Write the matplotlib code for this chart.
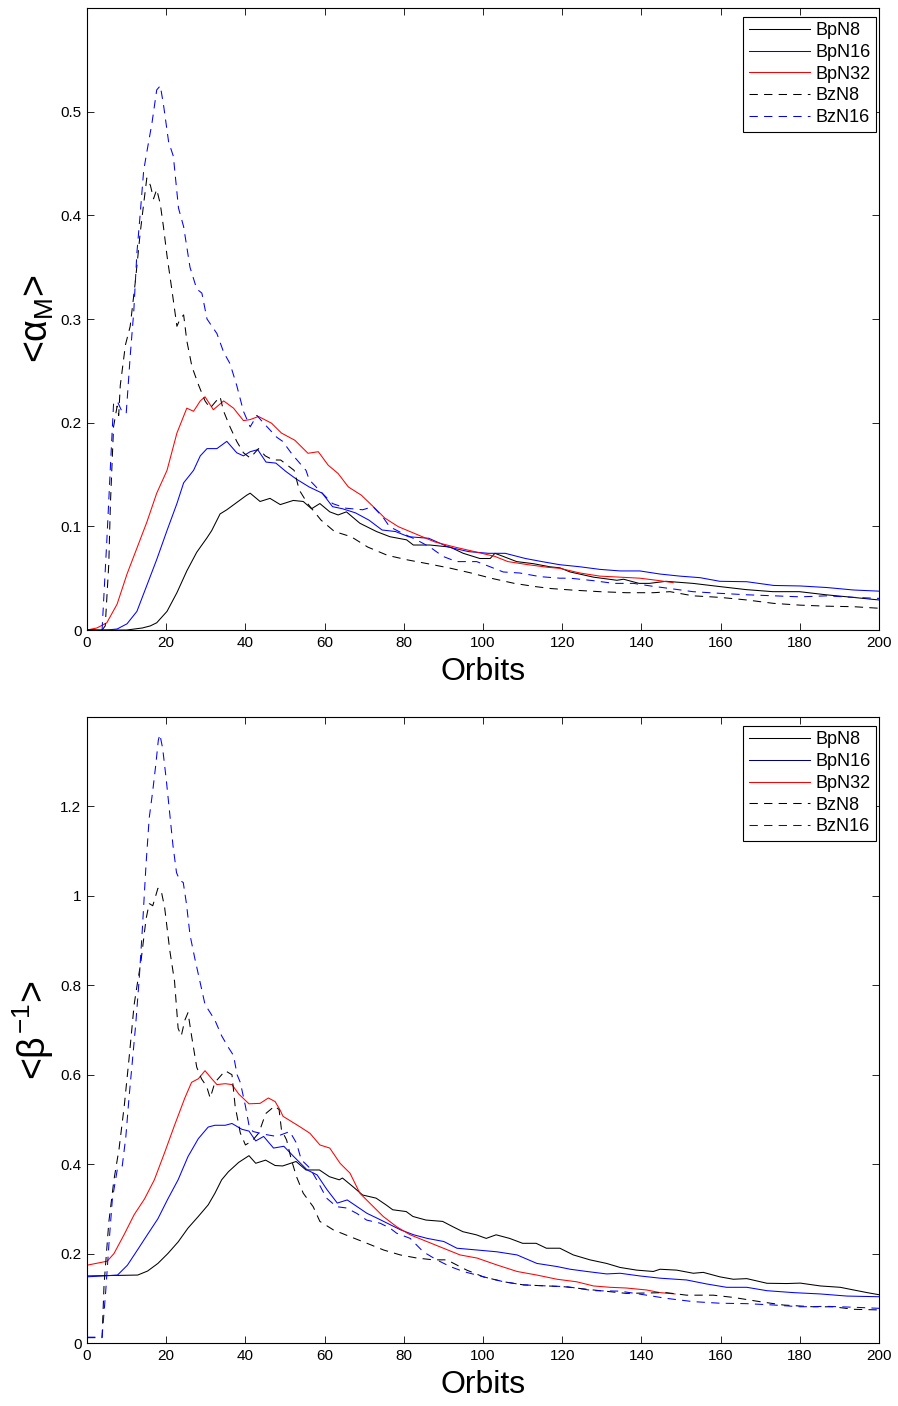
import numpy as np
import matplotlib
import matplotlib.pyplot as plt
from matplotlib.lines import Line2D

matplotlib.use('Agg')

plt.rcParams['font.family'] = ['Liberation Sans', 'DejaVu Sans']
plt.rcParams['mathtext.fontset'] = 'custom'
plt.rcParams['mathtext.rm'] = 'Liberation Sans'
plt.rcParams['mathtext.it'] = 'Liberation Sans'
plt.rcParams['mathtext.bf'] = 'Liberation Sans'

# (orbit, <alpha_M>) samples for each run
alpha_bpn8 = [(0, 0), (5, 0), (10, 0), (12, 0.001), (14, 0.002), (16, 0.004), (17.6, 0.007), (20.2, 0.018),
              (22.7, 0.036), (25.2, 0.057), (27.7, 0.075), (30.3, 0.089), (31.5, 0.096), (33.6, 0.112),
              (35.3, 0.116), (37.8, 0.123), (40.3, 0.130), (41.2, 0.132), (43.7, 0.124), (46.2, 0.127),
              (48.8, 0.121), (52.1, 0.125), (54.6, 0.124), (56.7, 0.117), (58.8, 0.122), (61.3, 0.114),
              (63.4, 0.111), (65.5, 0.114), (68.9, 0.103), (73.1, 0.095), (76.5, 0.090), (80.7, 0.087),
              (82.4, 0.082), (86.6, 0.082), (91.7, 0.080), (95.0, 0.074), (99.2, 0.069), (101.8, 0.069),
              (103.0, 0.074), (105.1, 0.071), (108.5, 0.066), (112.7, 0.064), (116.9, 0.061), (119.4, 0.060),
              (122.0, 0.056), (127.9, 0.051), (133.8, 0.048), (135.5, 0.049), (139.4, 0.045), (142.0, 0.045),
              (146.2, 0.047), (153.0, 0.045), (159.6, 0.042), (166.4, 0.039), (173.2, 0.037), (179.9, 0.037),
              (186.6, 0.034), (193.4, 0.0315), (200, 0.029)]
alpha_bpn16 = [(0, 0), (5, 0), (7.6, 0.001), (10.1, 0.006), (12.6, 0.018), (15.1, 0.043), (17.6, 0.068),
               (20.2, 0.096), (22.7, 0.122), (24.4, 0.142), (26.9, 0.154), (28.6, 0.168), (30.3, 0.175),
               (32.8, 0.175), (35.3, 0.182), (37.8, 0.171), (39.5, 0.168), (41.2, 0.172), (43.1, 0.174),
               (45.2, 0.162), (47.7, 0.161), (50.2, 0.153), (52.7, 0.146), (56.1, 0.138), (59.4, 0.132),
               (62.0, 0.119), (64.5, 0.117), (67.8, 0.113), (71.2, 0.106), (74.5, 0.0965), (77.9, 0.095),
               (81.2, 0.090), (86.3, 0.0885), (91.3, 0.080), (96.4, 0.0756), (101.4, 0.074), (105.6, 0.074),
               (110.7, 0.069), (114.9, 0.066), (119.4, 0.063), (124.5, 0.061), (129.5, 0.0585), (134.6, 0.057),
               (139.6, 0.057), (144.7, 0.054), (149.7, 0.052), (154.8, 0.0505), (159.8, 0.047), (166.6, 0.0466),
               (173.4, 0.043), (180.1, 0.0425), (186.8, 0.041), (193.6, 0.0386), (200, 0.0375)]
alpha_bpn32 = [(0, 0), (2.5, 0.002), (5, 0.007), (7.6, 0.025), (10.1, 0.054), (12.6, 0.079), (15.1, 0.104),
               (17.6, 0.132), (20.2, 0.154), (22.7, 0.190), (25.2, 0.214), (26.9, 0.211), (28.6, 0.221),
               (29.8, 0.225), (31.9, 0.2125), (34.5, 0.221), (37.0, 0.214), (39.5, 0.202), (41.2, 0.203),
               (43.3, 0.206), (46.6, 0.1995), (49.1, 0.190), (52.5, 0.183), (55.8, 0.1705), (58.4, 0.172),
               (60.9, 0.159), (63.4, 0.151), (66.0, 0.138), (69.3, 0.130), (72.7, 0.1175), (75.2, 0.108),
               (78.6, 0.0997), (82.8, 0.093), (87.8, 0.085), (92.9, 0.080), (97.9, 0.0756), (103.0, 0.071),
               (106.3, 0.066), (111.4, 0.063), (116.4, 0.0605), (119.4, 0.0595), (124.5, 0.055), (129.5, 0.052),
               (134.6, 0.051), (139.6, 0.050), (143.8, 0.048), (148.0, 0.0457)]
alpha_bzn8 = [(0, 0), (3.8, 0), (4.6, 0.004), (5.5, 0.064), (5.9, 0.121), (6.7, 0.196), (7.6, 0.216),
              (8.0, 0.207), (8.4, 0.236), (9.7, 0.275), (10.9, 0.293), (12.2, 0.336), (13.4, 0.382),
              (14.3, 0.411), (15.1, 0.436), (16.0, 0.429), (16.8, 0.416), (17.6, 0.425), (18.5, 0.411),
              (19.3, 0.389), (20.2, 0.361), (21.4, 0.329), (22.7, 0.293), (23.5, 0.300), (24.4, 0.304),
              (25.2, 0.279), (26.5, 0.254), (28.2, 0.236), (29.8, 0.221), (31.1, 0.214), (32.4, 0.220),
              (33.6, 0.225), (34.5, 0.211), (36.1, 0.196), (37.8, 0.182), (39.5, 0.171), (41.2, 0.166),
              (43.3, 0.175), (45.0, 0.168), (47.0, 0.164), (48.9, 0.164), (52.3, 0.154), (53.6, 0.135),
              (55.7, 0.122), (59.1, 0.106), (62.5, 0.095), (66.7, 0.090), (70.9, 0.080), (75.9, 0.072),
              (81.0, 0.0676), (86.0, 0.064), (91.9, 0.0595), (97.0, 0.055), (102.0, 0.050), (107.9, 0.045),
              (113.0, 0.042), (117.2, 0.040), (122.3, 0.0386), (129.5, 0.037), (136.2, 0.036), (143.0, 0.036),
              (147.2, 0.037), (153.0, 0.033), (159.8, 0.0315), (166.6, 0.029), (173.4, 0.0257), (180.1, 0.024),
              (186.8, 0.023), (193.6, 0.0225), (200, 0.021)]
alpha_bzn16 = [(0, 0), (3.8, 0), (5.0, 0.086), (5.9, 0.157), (6.7, 0.218), (7.6, 0.221), (8.8, 0.211),
               (9.9, 0.209), (10.9, 0.264), (11.8, 0.307), (12.6, 0.364), (13.4, 0.400), (14.3, 0.443),
               (15.1, 0.461), (16.4, 0.489), (17.6, 0.521), (18.5, 0.525), (19.3, 0.507), (20.6, 0.471),
               (21.8, 0.457), (23.1, 0.407), (24.4, 0.389), (26.0, 0.350), (27.7, 0.329), (29.0, 0.325),
               (30.3, 0.300), (32.8, 0.286), (34.5, 0.268), (36.1, 0.257), (37.8, 0.236), (39.5, 0.211),
               (41.2, 0.196), (42.9, 0.207), (44.5, 0.200), (46.2, 0.193), (47.9, 0.186), (49.4, 0.182),
               (51.9, 0.169), (55.3, 0.154), (56.1, 0.145), (58.6, 0.135), (62.0, 0.122), (65.4, 0.1175),
               (69.6, 0.116), (72.2, 0.119), (74.7, 0.109), (76.4, 0.0997), (79.8, 0.093), (83.2, 0.087),
               (86.6, 0.080), (89.9, 0.071), (93.3, 0.066), (98.4, 0.066), (101.8, 0.061), (105.1, 0.056),
               (109.3, 0.055), (114.4, 0.0515), (119.4, 0.050), (122.0, 0.050), (127.9, 0.0476), (133.0, 0.045),
               (138.0, 0.045), (142.3, 0.0425), (147.3, 0.040), (153.0, 0.037), (159.8, 0.0354), (166.6, 0.034),
               (173.4, 0.033), (180.1, 0.032), (186.8, 0.033), (193.6, 0.0315), (200, 0.0305)]

# (orbit, <1/beta>) samples for each run
beta_bpn8 = [(0, 0.150), (12.8, 0.152), (15.3, 0.161), (17.9, 0.178), (20.4, 0.200), (23.0, 0.226),
             (25.5, 0.257), (28.1, 0.283), (30.6, 0.309), (32.3, 0.335), (34.0, 0.365), (35.7, 0.383),
             (38.3, 0.404), (40.9, 0.419), (42.6, 0.402), (45.1, 0.409), (47.5, 0.397), (49.4, 0.396),
             (52.8, 0.406), (55.3, 0.387), (58.7, 0.387), (61.2, 0.372), (63.7, 0.365), (64.5, 0.369),
             (67.1, 0.350), (69.6, 0.331), (73.0, 0.324), (75.5, 0.309), (77.2, 0.298), (80.6, 0.294),
             (82.3, 0.283), (85.6, 0.275), (89.8, 0.272), (92.4, 0.260), (94.9, 0.249), (98.3, 0.242),
             (100.8, 0.234), (103.3, 0.242), (106.7, 0.234), (110.0, 0.223), (113.4, 0.223), (116.0, 0.212),
             (119.4, 0.212), (122.8, 0.197), (127.0, 0.186), (131.2, 0.178), (134.6, 0.169), (138.8, 0.163),
             (143.0, 0.160), (144.7, 0.165), (148.9, 0.163), (153.1, 0.156), (155.6, 0.158), (159.8, 0.148),
             (163.2, 0.1426), (166.6, 0.144), (171.7, 0.1336), (176.7, 0.133), (180.1, 0.134), (185.2, 0.1276),
             (190.2, 0.1246), (193.6, 0.1186), (197.0, 0.1127), (200, 0.108)]
beta_bpn16 = [(0, 0.148), (7.7, 0.152), (10.2, 0.174), (12.8, 0.209), (15.3, 0.243), (17.9, 0.278),
              (20.4, 0.322), (23.0, 0.365), (25.5, 0.417), (28.1, 0.457), (30.6, 0.483), (32.3, 0.487),
              (34.9, 0.487), (36.6, 0.491), (39.1, 0.478), (40.9, 0.474), (42.6, 0.452), (44.6, 0.462),
              (47.1, 0.436), (49.7, 0.440), (52.2, 0.417), (55.6, 0.387), (58.1, 0.376), (60.6, 0.343),
              (63.2, 0.313), (65.7, 0.320), (68.2, 0.305), (70.7, 0.290), (73.3, 0.279), (75.8, 0.268),
              (79.2, 0.253), (82.5, 0.242), (85.9, 0.234), (90.1, 0.227), (93.4, 0.212), (98.5, 0.208),
              (103.5, 0.204), (108.6, 0.197), (113.6, 0.178), (118.7, 0.171), (122.0, 0.165), (126.2, 0.160),
              (131.2, 0.1545), (134.6, 0.156), (139.6, 0.150), (144.7, 0.145), (151.4, 0.141), (156.5, 0.132),
              (161.5, 0.1246), (166.6, 0.1246), (171.7, 0.117), (178.4, 0.1127), (185.2, 0.1097),
              (191.9, 0.105), (200, 0.1035)]
beta_bpn32 = [(0, 0.174), (5.1, 0.183), (6.8, 0.200), (9.4, 0.243), (11.9, 0.287), (14.5, 0.322),
              (17.0, 0.365), (19.6, 0.426), (22.1, 0.487), (24.7, 0.548), (26.4, 0.583), (28.1, 0.591),
              (29.8, 0.609), (31.5, 0.591), (32.8, 0.578), (34.9, 0.580), (36.6, 0.578), (38.3, 0.557),
              (40.9, 0.535), (43.7, 0.536), (45.8, 0.548), (47.5, 0.540), (48.7, 0.522), (49.5, 0.507),
              (53.7, 0.484), (56.3, 0.469), (58.8, 0.443), (61.3, 0.436), (63.9, 0.402), (66.4, 0.380),
              (68.9, 0.335), (72.3, 0.305), (74.8, 0.283), (78.2, 0.260), (81.6, 0.242), (85.8, 0.227),
              (90.0, 0.212), (94.2, 0.197), (98.5, 0.190), (103.5, 0.1746), (108.6, 0.160), (113.6, 0.152),
              (118.7, 0.1426), (123.6, 0.137), (127.9, 0.1276), (132.1, 0.1246), (136.2, 0.123),
              (141.3, 0.1186), (144.7, 0.1127), (148.5, 0.1097)]
beta_bzn8 = [(0, 0.012), (3.8, 0.012), (4.3, 0.130), (5.5, 0.270), (6.8, 0.365), (8.1, 0.435), (9.4, 0.530),
             (10.6, 0.635), (11.9, 0.757), (12.8, 0.809), (13.6, 0.852), (14.9, 0.948), (15.7, 0.983),
             (16.6, 0.978), (17.9, 1.017), (18.7, 1.013), (19.6, 0.974), (20.9, 0.878), (22.1, 0.809),
             (23.0, 0.704), (23.8, 0.687), (24.7, 0.722), (25.5, 0.739), (26.4, 0.687), (27.7, 0.617),
             (28.9, 0.591), (30.2, 0.574), (31.1, 0.548), (32.3, 0.583), (34.9, 0.609), (36.6, 0.600),
             (37.4, 0.530), (38.7, 0.470), (40.0, 0.443), (41.7, 0.452), (43.4, 0.470), (45.1, 0.513),
             (47.4, 0.530), (48.5, 0.522), (49.1, 0.477), (50.4, 0.454), (51.6, 0.410), (52.9, 0.372),
             (54.6, 0.335), (57.1, 0.305), (58.8, 0.272), (62.2, 0.253), (66.4, 0.238), (70.7, 0.223),
             (74.9, 0.208), (79.1, 0.197), (83.3, 0.190), (87.5, 0.186), (90.9, 0.186), (92.6, 0.178),
             (95.9, 0.163), (100.1, 0.148), (105.2, 0.137), (110.2, 0.130), (115.3, 0.128), (120.3, 0.126),
             (127.9, 0.1186), (136.2, 0.111), (146.2, 0.1127), (151.4, 0.107), (158.1, 0.107), (163.2, 0.102),
             (169.9, 0.0925), (175.8, 0.085), (183.4, 0.081), (188.5, 0.081), (193.6, 0.0754), (200, 0.074)]
beta_bzn16 = [(0, 0.013), (3.8, 0.013), (4.7, 0.113), (5.5, 0.217), (6.4, 0.322), (7.7, 0.391), (8.9, 0.396),
              (9.8, 0.461), (10.6, 0.548), (11.5, 0.635), (12.3, 0.713), (13.2, 0.817), (14.0, 0.930),
              (14.9, 1.070), (15.7, 1.174), (16.6, 1.235), (17.4, 1.296), (18.0, 1.348), (18.4, 1.361),
              (19.1, 1.330), (20.0, 1.261), (20.9, 1.183), (21.7, 1.113), (22.6, 1.052), (23.4, 1.035),
              (24.3, 1.030), (25.1, 0.983), (26.0, 0.913), (27.2, 0.861), (28.5, 0.809), (29.8, 0.757),
              (31.1, 0.739), (32.3, 0.722), (34.0, 0.687), (35.7, 0.661), (37.0, 0.643), (37.9, 0.600),
              (38.7, 0.583), (40.0, 0.530), (40.9, 0.487), (41.9, 0.473), (45.3, 0.466), (47.9, 0.462),
              (51.2, 0.473), (52.9, 0.447), (54.1, 0.410), (56.3, 0.391), (58.0, 0.365), (60.5, 0.324),
              (63.0, 0.305), (65.5, 0.302), (68.1, 0.290), (70.6, 0.275), (74.0, 0.268), (76.5, 0.257),
              (78.2, 0.2455), (81.6, 0.234), (84.9, 0.204), (88.3, 0.186), (91.7, 0.171), (95.0, 0.160),
              (100.1, 0.148), (105.2, 0.137), (110.2, 0.130), (115.3, 0.128), (121.2, 0.126), (127.9, 0.117),
              (134.6, 0.116), (141.3, 0.107), (146.2, 0.100), (153.1, 0.0925), (159.8, 0.089), (166.6, 0.088),
              (173.4, 0.085), (180.1, 0.081), (186.8, 0.082), (193.6, 0.080), (200, 0.0776)]

labels = ['BpN8', 'BpN16', 'BpN32', 'BzN8', 'BzN16']
colors = ['k', 'b', 'r', 'k', 'b']
styles = ['-', '-', '-', (0, (8, 6)), (0, (8, 6))]

x_ticks = np.arange(0, 201, 20)


def draw_panel(ax, series, ylabel, ylim, yticks, ytick_labels, legend_colors):
    for data, c, ls in zip(series, colors, styles):
        arr = np.array(data)
        ax.plot(arr[:, 0], arr[:, 1], color=c, linestyle=ls, linewidth=0.75)
    ax.set_xlim(0, 200)
    ax.set_ylim(*ylim)
    ax.set_xticks(x_ticks)
    ax.set_yticks(yticks)
    ax.set_yticklabels(ytick_labels)
    ax.tick_params(direction='in', length=5, width=0.6, top=True, right=True, labelsize=11, pad=4)
    for sp in ax.spines.values():
        sp.set_linewidth(0.8)
    ax.set_xlabel('Orbits', fontsize=23, labelpad=5)
    ax.set_ylabel(ylabel, fontsize=27, labelpad=3)

    handles = [Line2D([], [], color=c, linestyle=ls, linewidth=0.75)
               for c, ls in zip(legend_colors, styles)]
    leg = ax.legend(handles, labels, loc='upper right', fontsize=13, frameon=True, fancybox=False,
                    framealpha=1, edgecolor='k', handlelength=3.4, handletextpad=0.3,
                    labelspacing=0.26, borderaxespad=0.15, borderpad=0.3,
                    bbox_to_anchor=(1.0, 0.99))
    leg.get_frame().set_linewidth(0.8)


fig = plt.figure(figsize=(8.98, 14.06), dpi=100)
ax1 = fig.add_axes([0.0969, 0.5519, 0.882, 0.4424])
ax2 = fig.add_axes([0.0969, 0.0448, 0.882, 0.4452])

draw_panel(ax1, [alpha_bpn8, alpha_bpn16, alpha_bpn32, alpha_bzn8, alpha_bzn16],
           r'<$\alpha_{\rm M}$>', (0, 0.6), np.arange(0, 0.51, 0.1),
           ['0', '0.1', '0.2', '0.3', '0.4', '0.5'],
           ['k', 'b', 'r', 'k', 'b'])
draw_panel(ax2, [beta_bpn8, beta_bpn16, beta_bpn32, beta_bzn8, beta_bzn16],
           r'<$\beta^{-1}$>', (0, 1.4), np.arange(0, 1.21, 0.2),
           ['0', '0.2', '0.4', '0.6', '0.8', '1', '1.2'],
           ['k', '#00007f', 'r', 'k', 'b'])

fig.savefig('out.png', dpi=100)
